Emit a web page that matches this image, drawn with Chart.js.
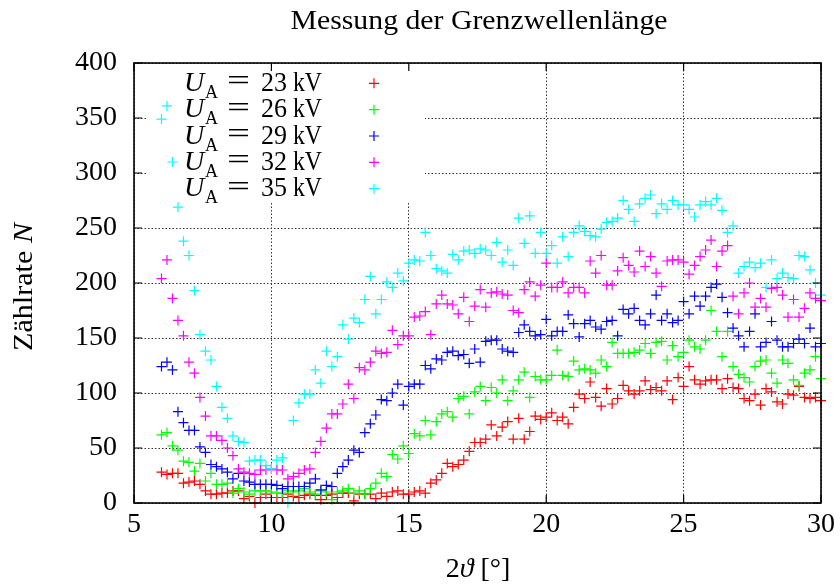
<!DOCTYPE html>
<html><head><meta charset="utf-8">
<script src="https://cdn.jsdelivr.net/npm/chart.js@4.4.1/dist/chart.umd.min.js"></script>
<style>html,body{margin:0;padding:0;background:#fff}#wrap{width:840px;height:585px}</style>
</head><body><div id="wrap"><canvas id="c" width="840" height="585"></canvas></div>
<script>
const angles = [6,6.2,6.4,6.6,6.8,7,7.2,7.4,7.6,7.8,8,8.2,8.4,8.6,8.8,9,9.2,9.4,9.6,9.8,10,10.2,10.4,10.6,10.8,11,11.2,11.4,11.6,11.8,12,12.2,12.4,12.6,12.8,13,13.2,13.4,13.6,13.8,14,14.2,14.4,14.6,14.8,15,15.2,15.4,15.6,15.8,16,16.2,16.4,16.6,16.8,17,17.2,17.4,17.6,17.8,18,18.2,18.4,18.6,18.8,19,19.2,19.4,19.6,19.8,20,20.2,20.4,20.6,20.8,21,21.2,21.4,21.6,21.8,22,22.2,22.4,22.6,22.8,23,23.2,23.4,23.6,23.8,24,24.2,24.4,24.6,24.8,25,25.2,25.4,25.6,25.8,26,26.2,26.4,26.6,26.8,27,27.2,27.4,27.6,27.8,28,28.2,28.4,28.6,28.8,29,29.2,29.4,29.6,29.8,30];

const rate23 = [28,26,27,27,18, 19,20,17,11,8, 8,9,9,11,11, 4,6,0,5,8, 5,5,5,8,6, 5,7,8,7,3, 7,8,5,9,9, 2,8,8,8,4, 9,6,10,11,8, 8,10,11,9,18, 21,27,36,33,35, 39,47,55,55,58, 71,61,69,74,58, 77,58,65,79,76, 78,82,75,78,72, 87,99,95,110,96, 88,104,90,95,107, 102,99,102,111,103, 105,102,111,94,114, 106,124,112,108,111, 112,112,104,113,105, 104,95,93,99,89, 104,101,92,90,99, 98,106,96,95,96, 93];
const rate26 = [62,64,52,48,38, 37,29,36,20,27, 17,17,18,9,13, 10,8,11,11,11, 10,9,9,11,10, 11,13,10,8,11, 10,3,10,11,13, 9,11,8,13,18, 27,24,44,40,52, 45,63,61,75,62, 74,81,83,78,95, 97,81,101,106,93, 105,100,112,93,102, 112,119,96,115,112, 112,116,139,116,115, 129,121,122,121,118, 130,124,146,136,136, 136,137,139,145,136, 146,147,130,143,133, 137,148,142,140,148, 175,156,133,156,124, 117,114,110,124,129, 130,118,109,130,127, 112,107,118,121,133, 113];
const rate29 = [124,128,121,83,73, 66,66,51,46,35, 33,31,28,22,27, 20,19,17,17,17, 17,16,13,15,15, 15,15,18,22,12, 16,15,27,33,39, 48,46,64,72,80, 94,93,100,108,89, 106,108,108,125,122, 131,130,137,138,134, 135,127,140,128,147, 148,148,140,138,137, 155,162,156,152,153, 167,152,156,156,171, 163,151,163,166,160, 158,165,166,152,176, 172,177,166,162,172, 189,166,172,164,166, 183,172,188,179,188, 196,199,187,173,159, 152,142,156,172,142, 146,165,148,142,142, 145,149,145,159,142, 145];
const rate32 = [204,221,186,166,152, 128,118,96,79,61, 61,57,50,43,31, 28,27,26,30,30, 31,30,30,22,24, 27,30,31,46,56, 68,81,81,90,108, 95,123,121,128,138, 136,137,157,144,152, 152,169,170,174,153, 181,189,181,180,172, 187,165,179,194,178, 191,192,190,189,175, 173,194,201,188,198, 218,196,196,201,191, 196,196,191,220,209, 225,198,198,211,223, 216,210,229,215,224, 209,197,220,221,221, 219,208,216,224,230, 239,215,229,234,188, 172,191,200,178,186, 178,195,196,189,169, 185,169,177,191,186, 184];
const rate35 = [349,361,310,269,238, 225,193,153,138,130, 106,87,77,61,56, 55,38,39,39,34, 31,39,41,0,75, 91,99,99,121,109, 138,124,133,162,149, 168,164,185,206,172, 185,201,196,209,202, 218,221,220,246,225, 213,211,209,226,221, 229,230,227,231,230, 225,237,219,230,216, 259,236,261,227,246, 227,234,218,242,224, 246,252,247,243,242, 249,255,256,259,275, 267,256,272,277,280, 263,272,267,275,271, 271,267,260,271,274, 271,277,266,246,252, 209,215,219,214,218, 196,221,204,209,205, 204,225,224,212,200, 189];

const voltages = ['23', '26', '29', '32', '35'];
const seriesColors = ['#ff0000', '#00ff00', '#0000ff', '#ff00ff', '#00ffff'];
const xTicks = [5, 10, 15, 20, 25, 30];
const yTicks = [0, 50, 100, 150, 200, 250, 300, 350, 400];
const titleText = 'Messung der Grenzwellenlänge';
const series = [rate23, rate26, rate29, rate32, rate35];

const FAM = '"Liberation Serif", "DejaVu Serif", serif';

function piece(ctx, s, x, y, font, width) {
  ctx.save();
  ctx.font = font;
  const w = ctx.measureText(s).width;
  const sx = width ? width / w : 1;
  ctx.translate(x, y);
  ctx.scale(sx, 1);
  ctx.textAlign = 'left';
  ctx.textBaseline = 'alphabetic';
  ctx.fillStyle = '#000';
  ctx.fillText(s, 0, 0);
  ctx.restore();
  return w * sx;
}

function drawCross(ctx, x, y, r, color) {
  ctx.save();
  ctx.strokeStyle = color;
  ctx.lineWidth = 1.2;
  ctx.beginPath();
  ctx.moveTo(x - r, y); ctx.lineTo(x + r, y);
  ctx.moveTo(x, y - r); ctx.lineTo(x, y + r);
  ctx.stroke();
  ctx.restore();
}

const keyBox = {x0: 148, y0: 64, x1: 425, y1: 203};

const framePlugin = {
  id: 'frame',
  beforeDatasetsDraw(chart) {
    const ctx = chart.ctx;
    ctx.save();
    ctx.fillStyle = '#fff';
    ctx.fillRect(keyBox.x0, keyBox.y0, keyBox.x1 - keyBox.x0, keyBox.y1 - keyBox.y0);
    ctx.restore();
  },
  afterDatasetsDraw(chart) {
    const ctx = chart.ctx;
    const a = chart.chartArea;
    const xs = chart.scales.x, ys = chart.scales.y;
    ctx.save();
    // ticks (inside, mirrored)
    ctx.strokeStyle = '#000';
    ctx.lineWidth = 1.2;
    ctx.beginPath();
    xTicks.forEach(v => {
      const px = xs.getPixelForValue(v);
      ctx.moveTo(px, a.bottom); ctx.lineTo(px, a.bottom - 8);
      ctx.moveTo(px, a.top); ctx.lineTo(px, a.top + 8);
    });
    yTicks.forEach(v => {
      const py = ys.getPixelForValue(v);
      ctx.moveTo(a.left, py); ctx.lineTo(a.left + 8, py);
      ctx.moveTo(a.right, py); ctx.lineTo(a.right - 8, py);
    });
    ctx.stroke();
    // border
    ctx.lineWidth = 1.6;
    ctx.strokeRect(a.left, a.top, a.right - a.left, a.bottom - a.top);

    // key
    const mainF = '28px ' + FAM, itF = 'italic 28px ' + FAM, subF = '18px ' + FAM;
    for (let i = 0; i < voltages.length; i++) {
      const my = 83.3 + i * 26.35;
      const by = my + 7.5;
      piece(ctx, 'U', 184, by, itF);
      piece(ctx, 'A', 205, by + 7, subF);
      piece(ctx, '=', 227, by - 0.5, '30px ' + FAM, 23);
      piece(ctx, voltages[i], 261, by, mainF, 26);
      piece(ctx, 'kV', 293, by, mainF, 29);
      drawCross(ctx, 374, my, 5, seriesColors[i]);
    }

    // title
    const tTarget = 377;
    piece(ctx, titleText, 479 - tTarget / 2, 29, '28px ' + FAM, tTarget);

    // y axis title (rotated)
    ctx.save();
    ctx.translate(32, 287);
    ctx.rotate(-Math.PI / 2);
    ctx.font = '28px ' + FAM;
    const w1 = ctx.measureText('Zählrate ').width;
    ctx.font = 'italic 28px ' + FAM;
    const w2 = ctx.measureText('N').width;
    const sc = 128 / (w1 + w2);
    let x0 = -(w1 + w2) * sc / 2;
    x0 += piece(ctx, 'Zählrate ', x0, 0, '28px ' + FAM, w1 * sc);
    piece(ctx, 'N', x0, 0, 'italic 28px ' + FAM, w2 * sc);
    ctx.restore();

    // x axis title
    const parts = [['2', '28px ' + FAM], ['ϑ', 'italic 28px ' + FAM], [' [°]', '28px ' + FAM]];
    let tot = 0;
    parts.forEach(p => { ctx.font = p[1]; p.push(ctx.measureText(p[0]).width); tot += p[2]; });
    let xx = 478 - tot / 2;
    parts.forEach(p => { xx += piece(ctx, p[0], xx, 577, p[1]); });
    ctx.restore();
  }
};

const tickFont = {family: FAM, size: 28};

new Chart(document.getElementById('c'), {
  type: 'scatter',
  data: {
    datasets: series.map((vals, i) => ({
      label: 'U_A = ' + voltages[i] + ' kV',
      data: angles.map((a, j) => ({x: a, y: vals[j]})),
      pointStyle: 'cross',
      pointRadius: 5,
      pointHoverRadius: 5,
      pointBorderWidth: 1.2,
      pointBorderColor: seriesColors[i],
      pointBackgroundColor: seriesColors[i],
      borderColor: seriesColors[i],
      backgroundColor: seriesColors[i],
      showLine: false,
      clip: false,
      order: 5 - i
    }))
  },
  options: {
    responsive: false,
    animation: false,
    devicePixelRatio: 1,
    events: [],
    layout: {padding: {left: 0, right: 18, top: 63, bottom: 0}},
    plugins: {legend: {display: false}, title: {display: false}, tooltip: {enabled: false}},
    scales: {
      x: {
        type: 'linear', min: 5, max: 30,
        afterBuildTicks: s => { s.ticks = xTicks.map(v => ({value: v})); },
        afterFit: s => { s.height = 82; },
        grid: {color: '#333', lineWidth: 1, drawTicks: false},
        border: {display: false, dash: [1.5, 2]},
        ticks: {color: '#000', font: tickFont, padding: 5, maxRotation: 0, autoSkip: false}
      },
      y: {
        type: 'linear', min: 0, max: 400,
        afterBuildTicks: s => { s.ticks = yTicks.map(v => ({value: v})); },
        afterFit: s => { s.width = 134; },
        grid: {color: '#333', lineWidth: 1, drawTicks: false},
        border: {display: false, dash: [1.5, 2]},
        ticks: {color: '#000', font: tickFont, padding: 17, autoSkip: false}
      }
    }
  },
  plugins: [framePlugin]
});
</script>
</body></html>
